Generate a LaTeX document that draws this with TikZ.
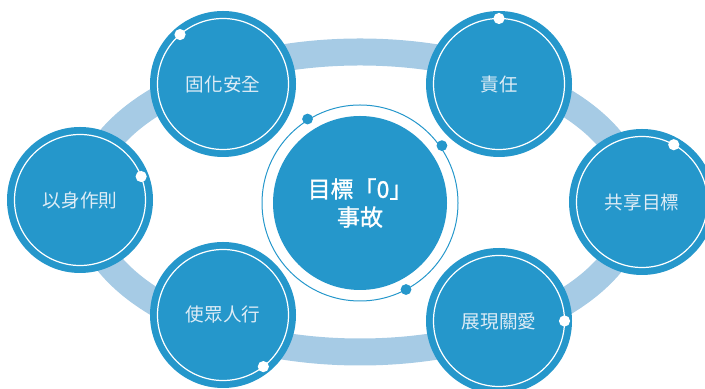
\documentclass[tikz,border=0pt]{standalone}
\usepackage{fontspec}
\setmainfont{Noto Sans CJK TC}
\newfontfamily\goalfont[FakeBold=1.2]{Noto Sans CJK TC}
\usetikzlibrary{calc}
\definecolor{bub}{RGB}{37,151,203}
\definecolor{rim}{RGB}{166,203,229}
\definecolor{pale}{RGB}{222,236,246}
\tikzset{bubble/.style={circle,fill=bub,minimum size=73pt,inner sep=0pt,text=pale,font=\fontsize{9.3}{11}\selectfont},
knob/.style={circle,fill=white,minimum size=5.6pt,inner sep=0pt},
bknob/.style={circle,fill=bub,minimum size=5.4pt,inner sep=0pt}}

\begin{document}
\begin{tikzpicture}[x=.5pt,y=.5pt]
\useasboundingbox(0,0)rectangle(705,389);
\draw[rim,line width=13.5pt](360,187)ellipse(275 and 150);
\node[circle,fill=bub,minimum size=87pt,inner sep=0pt,text=white,align=center,font=\fontsize{11.5}{14}\goalfont](goal)at(360,186){目標「0」\\事故};
\draw[bub,line width=.5pt](goal.center)circle(98);
\node[bknob](g1)at($(goal.center)+(122:99)$){};\node[bknob](g2)at($(goal.center)+(35:100)$){};\node[bknob](g3)at($(goal.center)+(-62:98)$){};
\node[bubble](gh)at(223,305){固化安全};\node[bubble](zr)at(499,305){責任};
\node[bubble](ys)at(80,189){以身作則};\node[bubble](gx)at(642,187){共享目標};
\node[bubble](sz)at(223,74){使眾人行};\node[bubble](zx)at(499,68){展現關愛};
\foreach\n in{gh,zr,ys,gx,sz,zx}{\draw[white,line width=.6pt](\n.center)circle(65.5);}
\node[knob](k1)at($(gh.center)+(131:65.5)$){};\node[knob](k2)at($(zr.center)+(90:65.5)$){};
\node[knob](k3)at($(ys.center)+(21:65.5)$){};\node[knob](k4)at($(gx.center)+(61:65.5)$){};
\node[knob](k5)at($(sz.center)+(-52:65.5)$){};\node[knob](k6)at($(zx.center)+(0:65.5)$){};
\end{tikzpicture}
\end{document}
